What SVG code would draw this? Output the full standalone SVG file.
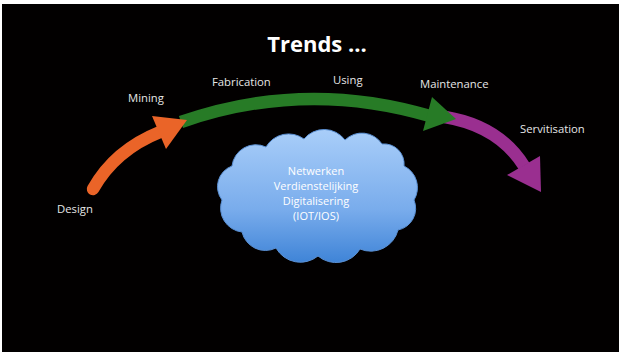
<svg xmlns="http://www.w3.org/2000/svg" width="623" height="354" viewBox="0 0 623 354">
<style>
.lbl{font-family:"Open Sans","Noto Sans","DejaVu Sans",sans-serif;font-size:11.3px;fill:#e6e6e6}
.title{font-family:"Open Sans","Noto Sans","DejaVu Sans",sans-serif;font-size:22px;font-weight:bold;fill:#ffffff}
.ctext{font-family:"Open Sans","Noto Sans","DejaVu Sans",sans-serif;font-size:11px;fill:#ffffff;text-anchor:middle}
.shaft{fill:none;stroke-width:12.5}
</style>
<defs>
<linearGradient id="cg" x1="0" y1="0" x2="0" y2="1">
<stop offset="0" stop-color="#a9cef9"/>
<stop offset="0.6" stop-color="#79acec"/>
<stop offset="1" stop-color="#3f84d7"/>
</linearGradient>
</defs>
<rect x="0" y="0" width="623" height="354" fill="#ffffff"/>
<rect x="2" y="4" width="617" height="348" fill="#020000"/>
<text class="title" x="317" y="52" text-anchor="middle">Trends ...</text>
<g id="connectors">
<g id="arrow-purple">
<path class="shaft" stroke="#9a2f90" d="M445,117 Q499,126 524,166"/>
<polygon fill="#9a2f90" points="507,175 541,192 540,156"/>
</g>
<g id="arrow-green">
<path class="shaft" stroke="#277b26" d="M181,122 Q304,79 430,116"/>
<polygon fill="#277b26" points="432,97 456,119 423,131"/>
</g>
<g id="arrow-orange">
<path class="shaft" stroke="#ea6428" stroke-linecap="round" d="M93,189 Q115,150 160,132"/>
<polygon fill="#ea6428" points="152,116 187,120 166,149"/>
</g>
</g>
<g id="node-design"><text class="lbl" x="57" y="213">Design</text></g>
<g id="node-mining"><text class="lbl" x="128" y="102">Mining</text></g>
<g id="node-fabrication"><text class="lbl" x="212" y="86">Fabrication</text></g>
<g id="node-using"><text class="lbl" x="333" y="84">Using</text></g>
<g id="node-maintenance"><text class="lbl" x="420" y="88">Maintenance</text></g>
<g id="node-servitisation"><text class="lbl" x="520" y="133">Servitisation</text></g>
<g id="node-cloud">
<path fill="url(#cg)" stroke="#5a8fd2" stroke-width="1" d="M222,200 A22,22 0 0 1 232,166 A24,24 0 0 1 266,147 A26,26 0 0 1 304,139 A26,26 0 0 1 345,140 A24,24 0 0 1 382,144 A20,20 0 0 1 404,166 A24,24 0 0 1 414,200 A22,22 0 0 1 398,230 A28,28 0 0 1 360,249 A28,28 0 0 1 318,256 A28,28 0 0 1 276,248 A24,24 0 0 1 242,232 A24,24 0 0 1 222,200 Z"/>
<text class="ctext" x="316" y="175">Netwerken</text>
<text class="ctext" x="316" y="190">Verdienstelijking</text>
<text class="ctext" x="316" y="205">Digitalisering</text>
<text class="ctext" x="316" y="220">(IOT/IOS)</text>
</g>
</svg>
